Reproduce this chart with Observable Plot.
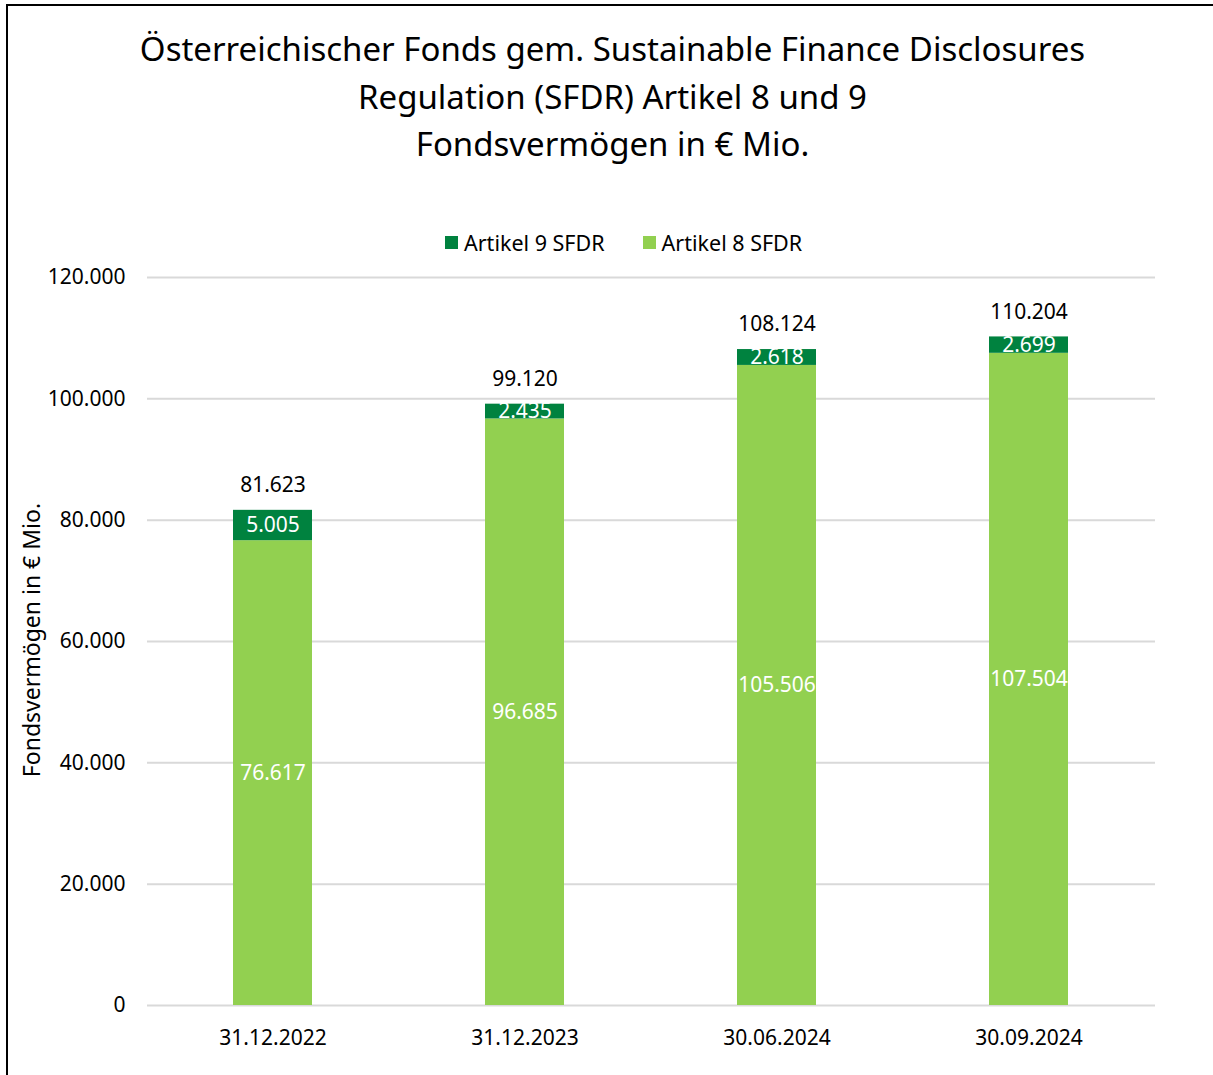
<!DOCTYPE html>
<html>
<head>
<meta charset="utf-8">
<script src="https://cdn.jsdelivr.net/npm/d3@7"></script>
<script src="https://cdn.jsdelivr.net/npm/@observablehq/plot@0.6"></script>
<style>
  html, body { margin: 0; padding: 0; background: #fff; }
  body { width: 1213px; height: 1075px; position: relative; overflow: hidden; font-family: "Noto Sans", sans-serif; color: #000; }
  #frame { position: absolute; left: 6px; top: 4px; width: 1230px; height: 1100px; border: 2.5px solid #000; box-sizing: border-box; }
  #title { position: absolute; left: 0; width: 1225px; top: 25px; text-align: center; font-size: 33px; line-height: 47.5px; }
  #legend { position: absolute; top: 228px; left: 445px; font-size: 21.5px; display: flex; gap: 0; white-space: nowrap; }
  .item { display: flex; align-items: center; margin-right: 38px; }
  .sw { width: 13px; height: 13px; margin-right: 6px; display: inline-block; }
  #ylabel { position: absolute; left: 31px; top: 640px; transform: translate(-50%, -50%) rotate(-90deg); font-size: 23px; white-space: nowrap; }
  #chart { position: absolute; left: 0; top: 257px; }
</style>
</head>
<body>
<div id="frame"></div>
<div id="title">Österreichischer Fonds gem. Sustainable Finance Disclosures<br>Regulation (SFDR) Artikel 8 und 9<br>Fondsvermögen in € Mio.</div>
<div id="legend"></div>
<div id="ylabel">Fondsvermögen in € Mio.</div>
<div id="chart"></div>
<script>
const dates = ["31.12.2022", "31.12.2023", "30.06.2024", "30.09.2024"];
const artikel8 = [76617, 96685, 105506, 107504];
const artikel9 = [5005, 2435, 2618, 2699];
const totals = [81623, 99120, 108124, 110204];
const seriesNames = ["Artikel 9 SFDR", "Artikel 8 SFDR"];
const seriesColors = ["#00823F", "#92D050"];
const yTicks = [0, 20000, 40000, 60000, 80000, 100000, 120000];

const de = d3.formatLocale({decimal: ",", thousands: ".", grouping: [3], currency: ["", " €"]});
const fmt = de.format(",d");

const rows = [];
dates.forEach((d, i) => rows.push({date: d, series: "Artikel 8 SFDR", value: artikel8[i]}));
dates.forEach((d, i) => rows.push({date: d, series: "Artikel 9 SFDR", value: artikel9[i]}));
const totalRows = dates.map((d, i) => ({date: d, total: totals[i]}));

// legend
const leg = document.getElementById("legend");
seriesNames.forEach((s, i) => {
  const it = document.createElement("div");
  it.className = "item";
  it.innerHTML = `<span class="sw" style="background:${seriesColors[i]}"></span><span>${s}</span>`;
  leg.appendChild(it);
});

const chart = Plot.plot({
  width: 1213,
  height: 818,
  marginLeft: 147,
  marginRight: 58,
  marginTop: 20,
  marginBottom: 70,
  style: {fontFamily: "Noto Sans, sans-serif", fontSize: "21px", color: "#000", background: "transparent"},
  x: {domain: dates, label: null, paddingInner: 0.686, paddingOuter: 0.343, tickSize: 0, tickPadding: 25},
  y: {domain: [0, 120000], ticks: yTicks, tickFormat: fmt, label: null, tickSize: 0, tickPadding: 22},
  color: {domain: seriesNames, range: seriesColors},
  marks: [
    Plot.ruleY(yTicks, {stroke: "#d9d9d9", strokeWidth: 2}),
    Plot.barY(rows, {x: "date", y: "value", fill: "series", z: "series"}),
    Plot.text(rows, Plot.stackY({x: "date", y: "value", z: "series", text: d => fmt(d.value), fill: "white", fontSize: 21})),
    Plot.text(totalRows, {x: "date", y: "total", text: d => fmt(d.total), dy: -25, fill: "black", fontSize: 21})
  ]
});
document.getElementById("chart").appendChild(chart);
</script>
</body>
</html>
